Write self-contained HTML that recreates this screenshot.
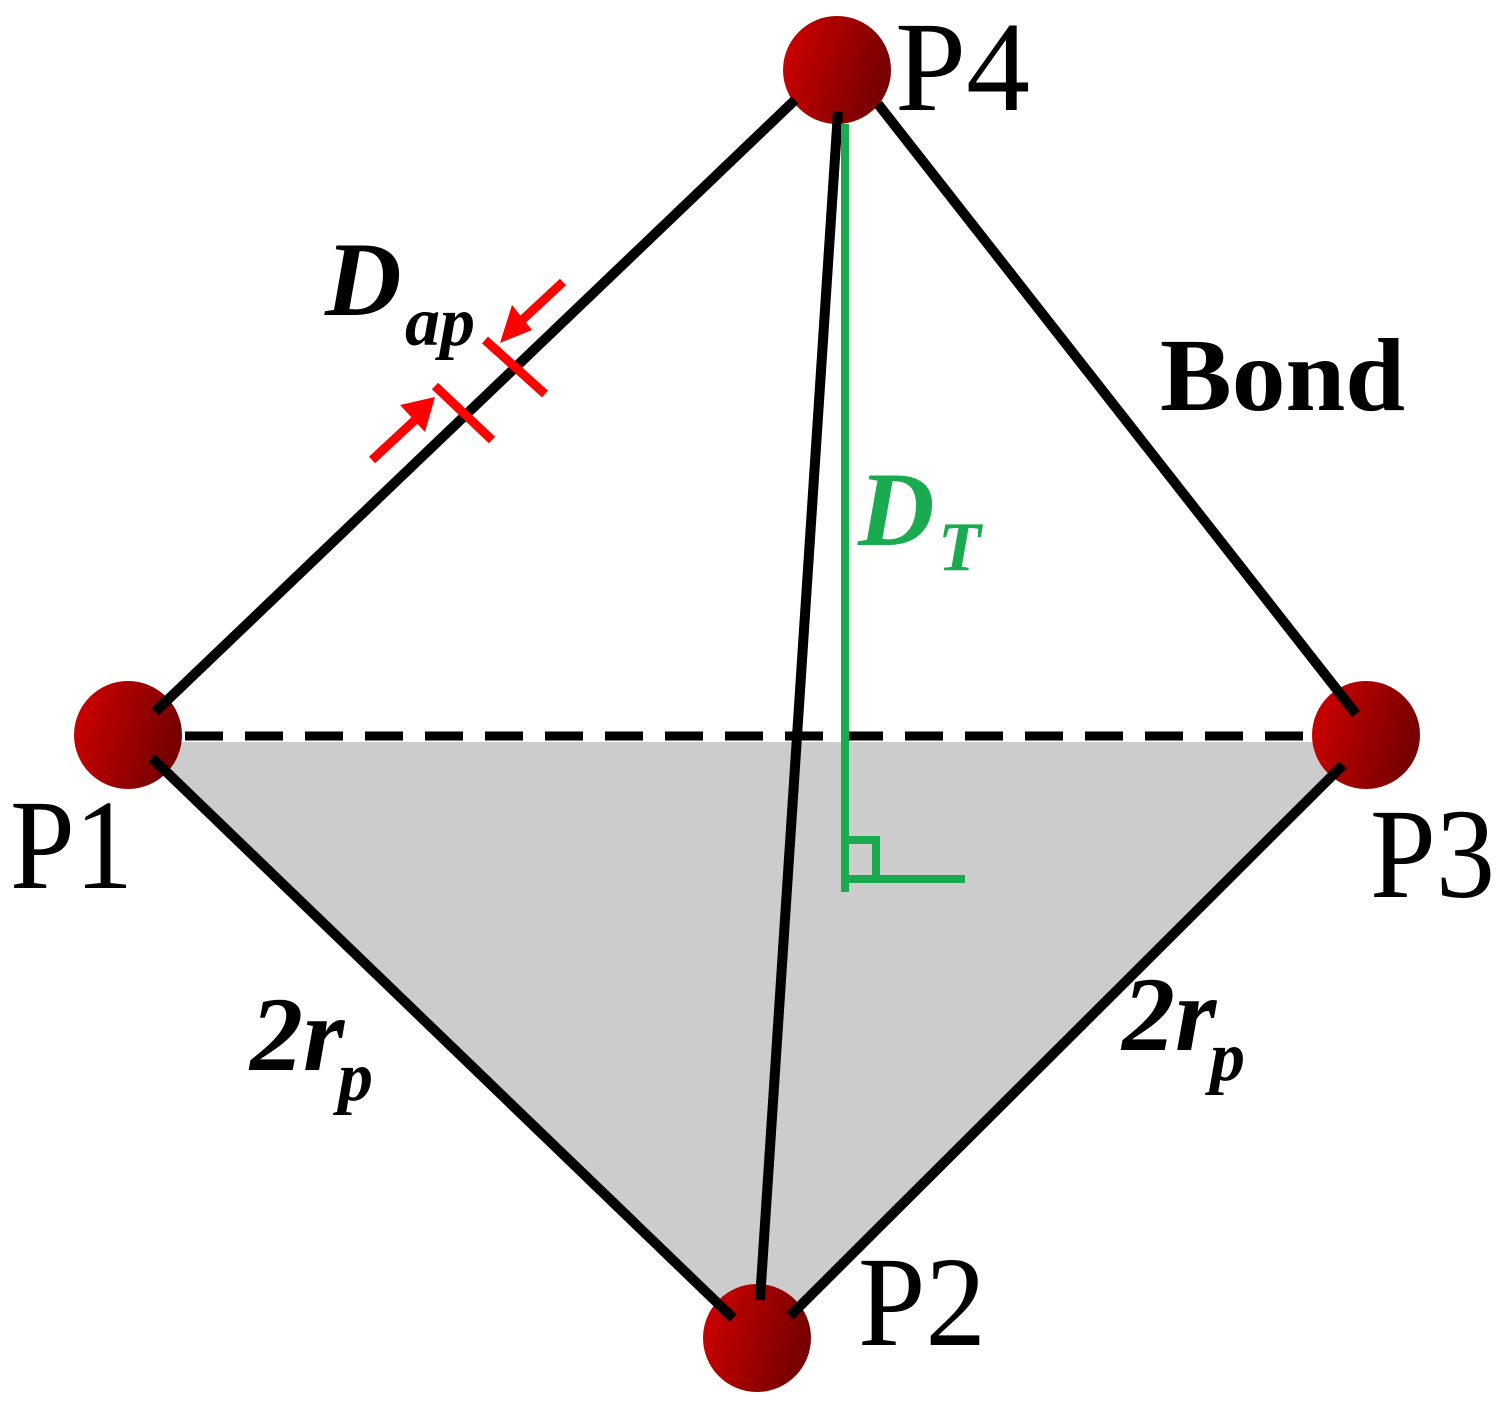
<!DOCTYPE html>
<html><head><style>html,body{margin:0;padding:0;background:#fff}svg{display:block}</style></head>
<body>
<svg width="1508" height="1411" viewBox="0 0 1508 1411" xmlns="http://www.w3.org/2000/svg">
<defs>
<linearGradient id="g" x1="0" y1="0" x2="1" y2="0.3">
<stop offset="0" stop-color="#d40000"/><stop offset="1" stop-color="#780000"/>
</linearGradient>
</defs>
<polygon points="160,742 1322,742 1343,765 790,1316 757,1322 733,1318 152,758" fill="#cccccc"/>
<line x1="185" y1="736" x2="1320" y2="736" stroke="#000" stroke-width="9" stroke-dasharray="38,22"/>
<circle cx="837" cy="70" r="54" fill="url(#g)"/>
<circle cx="128" cy="735" r="54" fill="url(#g)"/>
<circle cx="1366" cy="735" r="54" fill="url(#g)"/>
<circle cx="757" cy="1338" r="54" fill="url(#g)"/>
<g stroke="#000" stroke-width="10" stroke-linecap="butt">
<line x1="155" y1="712" x2="795" y2="100"/>
<line x1="878" y1="104" x2="1356" y2="714"/>
<line x1="152" y1="758" x2="733" y2="1318"/>
<line x1="790" y1="1316" x2="1343" y2="765"/>
<line x1="838" y1="112" x2="760" y2="1300"/>
</g>
<g stroke="#1aaa50" stroke-width="8" fill="none">
<line x1="845" y1="124" x2="845" y2="892"/>
<polyline points="845,840 876,840 876,879"/>
<line x1="845" y1="879" x2="965" y2="879"/>
</g>
<g stroke="#ff0000" stroke-width="9" fill="#ff0000">
<line x1="485" y1="340" x2="545" y2="394"/>
<line x1="435" y1="386" x2="492" y2="440"/>
<line x1="563" y1="282" x2="520" y2="322"/>
<line x1="372" y1="460" x2="415" y2="420"/>
</g>
<polygon points="500,343 512,305 532,330" fill="#ff0000"/>
<polygon points="435,397 400,405 425,432" fill="#ff0000"/>
<g font-family="'Liberation Serif', serif" fill="#000">
<text x="895" y="110" font-size="128" textLength="135" lengthAdjust="spacingAndGlyphs">P4</text>
<text x="10" y="888" font-size="128" textLength="123" lengthAdjust="spacingAndGlyphs">P1</text>
<text x="1370" y="897" font-size="128" textLength="125" lengthAdjust="spacingAndGlyphs">P3</text>
<text x="858" y="1345" font-size="128" textLength="128" lengthAdjust="spacingAndGlyphs">P2</text>
<text x="1160" y="410" font-size="104" font-weight="bold" textLength="245" lengthAdjust="spacingAndGlyphs">Bond</text>
<text x="325" y="315" font-size="106" font-weight="bold" font-style="italic">D</text>
<text x="405" y="345" font-size="70" font-weight="bold" font-style="italic">ap</text>
<text x="250" y="1070" font-size="106" font-weight="bold" font-style="italic">2r</text>
<text x="338" y="1100" font-size="70" font-weight="bold" font-style="italic">p</text>
<text x="1122" y="1050" font-size="106" font-weight="bold" font-style="italic">2r</text>
<text x="1210" y="1080" font-size="70" font-weight="bold" font-style="italic">p</text>
<g fill="#1aaa50" font-weight="bold" font-style="italic">
<text x="858" y="545" font-size="106">D</text>
<text x="938" y="570" font-size="70">T</text>
</g>
</g>
</svg>
</body></html>
